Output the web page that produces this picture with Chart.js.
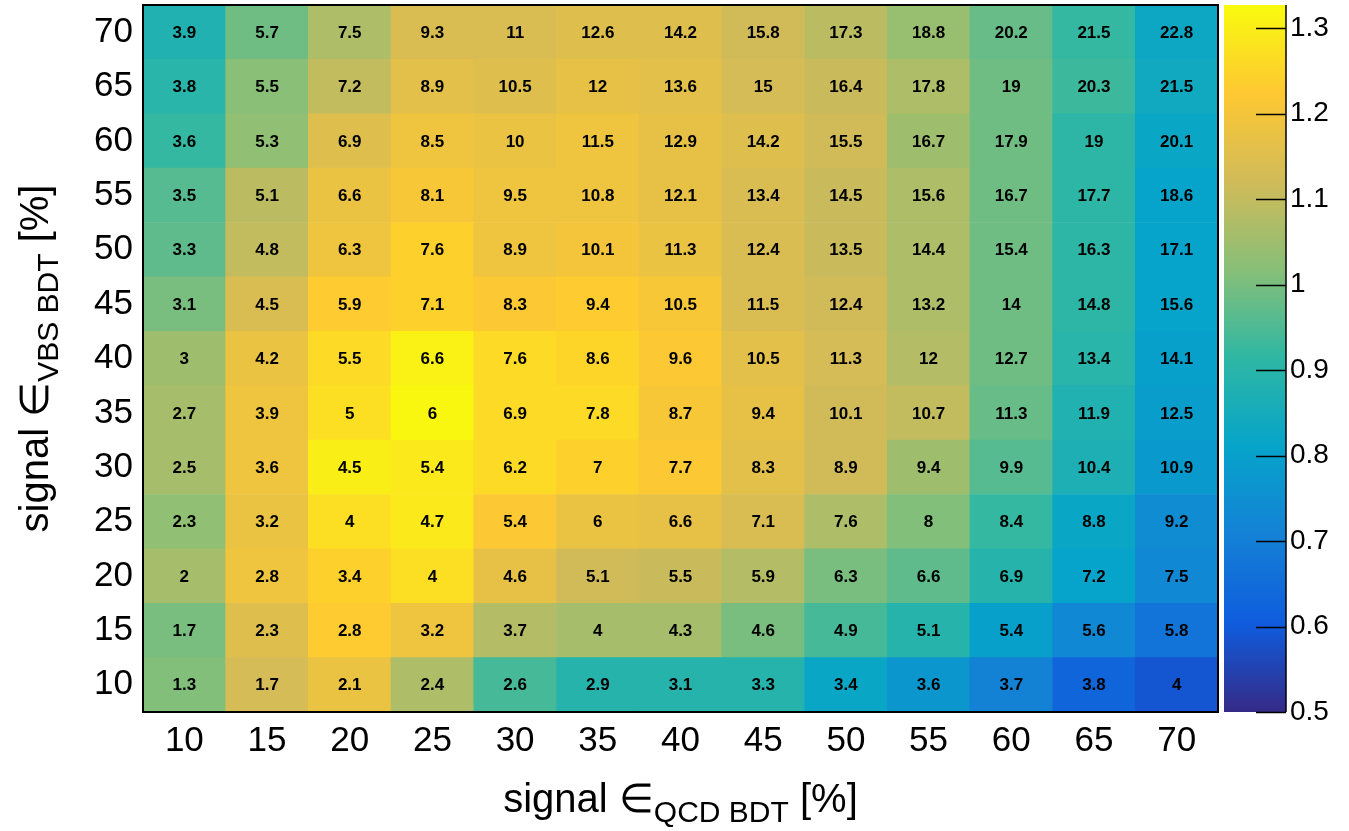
<!DOCTYPE html>
<html>
<head>
<meta charset="utf-8">
<script src="https://cdn.jsdelivr.net/npm/chart.js@4/dist/chart.umd.min.js"></script>
<style>
    body { margin: 0; background: #fff; }
    #wrap { position: relative; width: 1349px; height: 831px; }
    #mapa { position: absolute; left: 0; top: 0; }
    #paleta { position: absolute; left: 1200px; top: 0; }
</style>
</head>
<body>
<div id="wrap">
    <canvas id="mapa" width="1349" height="831"></canvas>
    <canvas id="paleta" width="149" height="831"></canvas>
</div>
<script>

// eixos (centros dos bins, em %)
const xBins = [10, 15, 20, 25, 30, 35, 40, 45, 50, 55, 60, 65, 70];
const yBins = [10, 15, 20, 25, 30, 35, 40, 45, 50, 55, 60, 65, 70];

// texto escrito em cada célula, linhas de y=10 até y=70
const yieldTable = [
    [1.3, 1.7, 2.1, 2.4, 2.6, 2.9, 3.1, 3.3, 3.4, 3.6, 3.7, 3.8, 4],
    [1.7, 2.3, 2.8, 3.2, 3.7, 4, 4.3, 4.6, 4.9, 5.1, 5.4, 5.6, 5.8],
    [2, 2.8, 3.4, 4, 4.6, 5.1, 5.5, 5.9, 6.3, 6.6, 6.9, 7.2, 7.5],
    [2.3, 3.2, 4, 4.7, 5.4, 6, 6.6, 7.1, 7.6, 8, 8.4, 8.8, 9.2],
    [2.5, 3.6, 4.5, 5.4, 6.2, 7, 7.7, 8.3, 8.9, 9.4, 9.9, 10.4, 10.9],
    [2.7, 3.9, 5, 6, 6.9, 7.8, 8.7, 9.4, 10.1, 10.7, 11.3, 11.9, 12.5],
    [3, 4.2, 5.5, 6.6, 7.6, 8.6, 9.6, 10.5, 11.3, 12, 12.7, 13.4, 14.1],
    [3.1, 4.5, 5.9, 7.1, 8.3, 9.4, 10.5, 11.5, 12.4, 13.2, 14, 14.8, 15.6],
    [3.3, 4.8, 6.3, 7.6, 8.9, 10.1, 11.3, 12.4, 13.5, 14.4, 15.4, 16.3, 17.1],
    [3.5, 5.1, 6.6, 8.1, 9.5, 10.8, 12.1, 13.4, 14.5, 15.6, 16.7, 17.7, 18.6],
    [3.6, 5.3, 6.9, 8.5, 10, 11.5, 12.9, 14.2, 15.5, 16.7, 17.9, 19, 20.1],
    [3.8, 5.5, 7.2, 8.9, 10.5, 12, 13.6, 15, 16.4, 17.8, 19, 20.3, 21.5],
    [3.9, 5.7, 7.5, 9.3, 11, 12.6, 14.2, 15.8, 17.3, 18.8, 20.2, 21.5, 22.8]
];

const ratioTable = [
    [1.01, 1.13, 1.18, 1.07, 0.94, 0.89, 0.89, 0.89, 0.82, 0.77, 0.71, 0.63, 0.59],
    [1.00, 1.15, 1.23, 1.19, 1.08, 1.06, 1.06, 1.00, 0.94, 0.89, 0.80, 0.73, 0.67],
    [1.06, 1.19, 1.24, 1.27, 1.17, 1.12, 1.11, 1.08, 1.00, 0.97, 0.89, 0.81, 0.73],
    [1.03, 1.18, 1.27, 1.29, 1.22, 1.18, 1.17, 1.14, 1.07, 1.01, 0.92, 0.82, 0.74],
    [1.06, 1.19, 1.30, 1.29, 1.26, 1.24, 1.22, 1.16, 1.12, 1.05, 0.96, 0.87, 0.78],
    [1.06, 1.19, 1.27, 1.32, 1.26, 1.26, 1.21, 1.17, 1.12, 1.10, 0.98, 0.88, 0.79],
    [1.05, 1.18, 1.26, 1.31, 1.26, 1.25, 1.22, 1.16, 1.13, 1.08, 0.99, 0.90, 0.80],
    [1.00, 1.14, 1.23, 1.24, 1.22, 1.23, 1.21, 1.14, 1.12, 1.07, 0.99, 0.91, 0.81],
    [0.97, 1.10, 1.19, 1.24, 1.19, 1.20, 1.18, 1.14, 1.11, 1.07, 0.99, 0.91, 0.81],
    [0.96, 1.09, 1.18, 1.21, 1.19, 1.19, 1.17, 1.14, 1.11, 1.07, 0.99, 0.91, 0.81],
    [0.92, 1.03, 1.15, 1.19, 1.18, 1.19, 1.17, 1.15, 1.12, 1.05, 0.99, 0.91, 0.82],
    [0.90, 1.02, 1.10, 1.16, 1.15, 1.17, 1.16, 1.13, 1.11, 1.07, 0.99, 0.93, 0.84],
    [0.88, 0.99, 1.07, 1.14, 1.14, 1.15, 1.15, 1.12, 1.09, 1.04, 0.98, 0.92, 0.83]
];

// escala de cor
const zMin = 0.5;
const zMax = 1.327;
const zTicks = [0.5, 0.6, 0.7, 0.8, 0.9, 1.0, 1.1, 1.2, 1.3];

const FONTE = "'Liberation Sans', Arial, Helvetica, sans-serif";

// paleta kBird do ROOT
const birdStops = [0.0, 0.125, 0.25, 0.375, 0.5, 0.625, 0.75, 0.875, 1.0];
const birdR = [0.2082, 0.0592, 0.0780, 0.0232, 0.1802, 0.5301, 0.8186, 0.9956, 0.9764];
const birdG = [0.1664, 0.3599, 0.5041, 0.6419, 0.7178, 0.7492, 0.7328, 0.7862, 0.9832];
const birdB = [0.5293, 0.8684, 0.8385, 0.7914, 0.6425, 0.4662, 0.3499, 0.1968, 0.0539];

function corBird(f) {
    f = Math.max(0, Math.min(1, f));
    let i = 0;
    while (i < birdStops.length - 2 && f > birdStops[i + 1]) i++;
    const t = (f - birdStops[i]) / (birdStops[i + 1] - birdStops[i]);
    const r = Math.round(255 * (birdR[i] + t * (birdR[i + 1] - birdR[i])));
    const g = Math.round(255 * (birdG[i] + t * (birdG[i + 1] - birdG[i])));
    const b = Math.round(255 * (birdB[i] + t * (birdB[i + 1] - birdB[i])));
    return "rgb(" + r + "," + g + "," + b + ")";
}

function corDoValor(z) {
    return corBird((z - zMin) / (zMax - zMin));
}

// tira o espaço extra que o Chart.js reserva para os rótulos das pontas
function semPadding(s) {
    s.paddingTop = 0;
    s.paddingBottom = 0;
    s.paddingLeft = 0;
    s.paddingRight = 0;
}

// ==========================
// Texto das células, moldura e títulos
// ==========================

const pluginMapa = {
    id: "pluginMapa",
    afterDatasetsDraw(chart) {
        const ctx = chart.ctx;
        const area = chart.chartArea;

        // números dentro das células
        ctx.save();
        ctx.font = "bold 17px " + FONTE;
        ctx.fillStyle = "#000";
        ctx.textAlign = "center";
        ctx.textBaseline = "middle";
        chart.data.datasets.forEach((ds, r) => {
            const meta = chart.getDatasetMeta(r);
            meta.data.forEach((bar, c) => {
                const yc = (bar.y + bar.base) / 2;
                ctx.fillText(String(yieldTable[r][c]), bar.x, yc + 1);
            });
        });
        ctx.restore();

        // moldura
        ctx.save();
        ctx.strokeStyle = "#000";
        ctx.lineWidth = 2;
        ctx.strokeRect(area.left, area.top, area.right - area.left, area.bottom - area.top);
        ctx.restore();
    },
    afterDraw(chart) {
        const ctx = chart.ctx;
        const area = chart.chartArea;

        function titulo(partes) {
            let total = 0;
            partes.forEach(p => {
                ctx.font = p.size + "px " + FONTE;
                p.w = ctx.measureText(p.txt).width;
                total += p.w;
            });
            let x = -total / 2;
            partes.forEach(p => {
                ctx.font = p.size + "px " + FONTE;
                ctx.fillText(p.txt, x, p.dy);
                x += p.w;
            });
        }

        ctx.save();
        ctx.fillStyle = "#000";
        ctx.textAlign = "left";
        ctx.textBaseline = "alphabetic";

        // título do eixo x
        ctx.save();
        ctx.translate((area.left + area.right) / 2, 812);
        titulo([
            { txt: "signal \u2208", size: 40, dy: 0 },
            { txt: "QCD BDT", size: 30, dy: 10 },
            { txt: " [%]", size: 40, dy: 0 }
        ]);
        ctx.restore();

        // título do eixo y
        ctx.save();
        ctx.translate(48, (area.top + area.bottom) / 2);
        ctx.rotate(-Math.PI / 2);
        titulo([
            { txt: "signal \u2208", size: 40, dy: 0 },
            { txt: "VBS BDT", size: 30, dy: 10 },
            { txt: " [%]", size: 40, dy: 0 }
        ]);
        ctx.restore();

        ctx.restore();
    }
};

// ==========================
// Mapa de cores
// ==========================

const ctxMapa = document.getElementById("mapa").getContext("2d");

new Chart(ctxMapa, {
    type: "bar",
    data: {
        labels: xBins.map(String),
        datasets: yBins.map((y, r) => ({
            label: "y = " + y,
            data: xBins.map(() => [y - 2.5, y + 2.5]),
            backgroundColor: ratioTable[r].map(corDoValor),
            borderWidth: 0,
            barPercentage: 1,
            categoryPercentage: 1,
            grouped: false
        }))
    },
    options: {
        responsive: false,
        animation: false,
        devicePixelRatio: 1,
        layout: {
            padding: { top: 5, right: 131, left: 0, bottom: 0 }
        },
        plugins: {
            legend: { display: false },
            tooltip: { enabled: false }
        },
        scales: {
            x: {
                type: "category",
                grid: { display: false, drawTicks: false },
                border: { display: false },
                ticks: {
                    color: "#000",
                    font: { family: FONTE, size: 35 },
                    padding: 8,
                    maxRotation: 0
                },
                afterFit: s => { s.height = 119; semPadding(s); }
            },
            y: {
                type: "linear",
                min: 7.5,
                max: 72.5,
                afterBuildTicks: s => { s.ticks = yBins.map(v => ({ value: v })); },
                grid: { display: false, drawTicks: false },
                border: { display: false },
                ticks: {
                    color: "#000",
                    font: { family: FONTE, size: 35 },
                    padding: 10
                },
                afterFit: s => { s.width = 143; semPadding(s); }
            }
        }
    },
    plugins: [pluginMapa]
});

// ==========================
// Barra da paleta
// ==========================

const pluginTicksPaleta = {
    id: "pluginTicksPaleta",
    afterDraw(chart) {
        const ctx = chart.ctx;
        const area = chart.chartArea;
        const y = chart.scales.y;
        ctx.save();
        ctx.strokeStyle = "#000";
        ctx.lineWidth = 1.5;
        y.ticks.forEach(t => {
            const py = Math.round(y.getPixelForValue(t.value)) + 0.5;
            ctx.beginPath();
            ctx.moveTo(area.right - 30, py);
            ctx.lineTo(area.right, py);
            ctx.stroke();
        });
        ctx.beginPath();
        ctx.moveTo(area.right, area.top);
        ctx.lineTo(area.right, area.bottom);
        ctx.stroke();
        ctx.restore();
    }
};

const ctxPaleta = document.getElementById("paleta").getContext("2d");

new Chart(ctxPaleta, {
    type: "bar",
    data: {
        labels: ["z"],
        datasets: [{
            data: [[zMin, zMax]],
            backgroundColor: c => {
                const area = c.chart.chartArea;
                if (!area) return corBird(0.5);
                const grad = c.chart.ctx.createLinearGradient(0, area.bottom, 0, area.top);
                birdStops.forEach(s => grad.addColorStop(s, corBird(s)));
                return grad;
            },
            borderWidth: 0,
            barPercentage: 1,
            categoryPercentage: 1
        }]
    },
    options: {
        responsive: false,
        animation: false,
        devicePixelRatio: 1,
        layout: {
            padding: { top: 5, right: 0, left: 24, bottom: 119 }
        },
        plugins: {
            legend: { display: false },
            tooltip: { enabled: false }
        },
        scales: {
            x: { display: false },
            y: {
                position: "right",
                min: zMin,
                max: zMax,
                afterBuildTicks: s => { s.ticks = zTicks.map(v => ({ value: v })); },
                grid: { display: false, drawTicks: false },
                border: { display: false },
                ticks: {
                    color: "#000",
                    font: { family: FONTE, size: 28 },
                    padding: 4,
                    callback: v => String(+Number(v).toFixed(1))
                },
                afterFit: s => { s.width = 63; semPadding(s); }
            }
        }
    },
    plugins: [pluginTicksPaleta]
});

</script>
</body>
</html>
